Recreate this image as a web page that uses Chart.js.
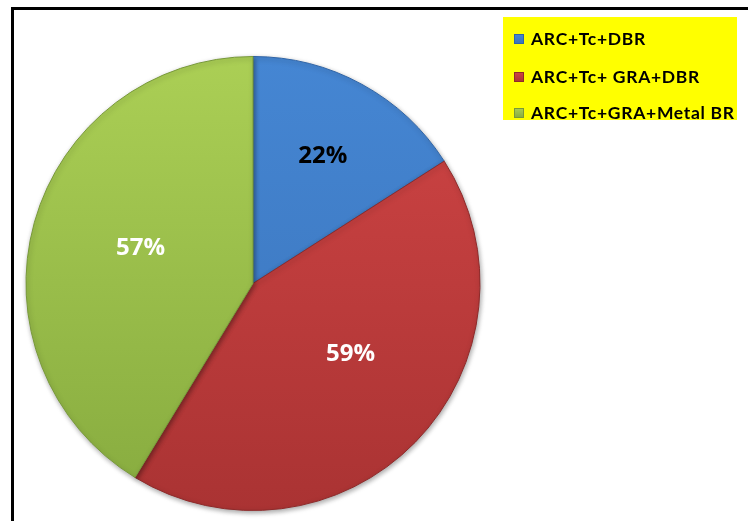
<!DOCTYPE html>
<html>
<head>
<meta charset="utf-8">
<script src="https://cdn.jsdelivr.net/npm/chart.js@4/dist/chart.umd.min.js"></script>
<style>
  html, body { margin: 0; padding: 0; background: #fff; }
  #wrap { position: relative; width: 748px; height: 521px; overflow: hidden; }
  #frame { position: absolute; left: 11px; top: 7px; width: 800px; height: 600px;
           border-left: 3px solid #000; border-top: 3px solid #000; }
  #chartBox { position: absolute; left: 0; top: 0; width: 748px; height: 521px; }
  #legend { position: absolute; left: 503px; top: 17px; width: 234px; height: 103px;
            background: #ffff00; font-family: Lato, "Liberation Sans", sans-serif;
            font-weight: bold; font-size: 17.5px; letter-spacing: 0.7px; color: #000; line-height: 21px; }
  .item { position: absolute; left: 11px; white-space: nowrap; }
  .sw { display: inline-block; width: 10px; height: 10px; margin-right: 7px; vertical-align: 1px; }
</style>
</head>
<body>
<div id="wrap">
  <div id="frame"></div>
  <div id="chartBox"><canvas id="c"></canvas></div>
  <div id="legend"></div>
</div>
<script>
const categories = ["ARC+Tc+DBR", "ARC+Tc+ GRA+DBR", "ARC+Tc+GRA+Metal BR"];
const values = [22, 59, 57];
const valueLabels = ["22%", "59%", "57%"];
const topColors = ["#4586D3", "#D04545", "#ABCF55"];
const bottomColors = ["#3A73B9", "#AA3333", "#87AB3F"];
const edgeColors = ["#2F64A6", "#8E2A2A", "#78993A"];
const labelColors = ["#000000", "#ffffff", "#ffffff"];
const labelRadius = [0.64, 0.53, 0.52];
const labelAngleShiftDeg = [0, -8.5, 2];

// HTML legend built from categories
const legend = document.getElementById('legend');
const rowTops = [11, 49, 85];
categories.forEach((name, i) => {
  const d = document.createElement('div');
  d.className = 'item';
  d.style.top = rowTops[i] + 'px';
  const s = document.createElement('span');
  s.className = 'sw';
  s.style.background = 'linear-gradient(' + topColors[i] + ',' + bottomColors[i] + ')';
  s.style.boxShadow = 'inset 0 0 0 1px ' + edgeColors[i];
  d.appendChild(s);
  d.appendChild(document.createTextNode(name));
  legend.appendChild(d);
});

function sliceFill(context) {
  const i = context.dataIndex;
  const chart = context.chart;
  const area = chart.chartArea;
  if (!area || i === undefined) return topColors[i || 0];
  const g = chart.ctx.createLinearGradient(0, area.top, 0, area.bottom);
  g.addColorStop(0, topColors[i]);
  g.addColorStop(1, bottomColors[i]);
  return g;
}

const shadowPlugin = {
  id: 'shadow',
  beforeDatasetsDraw(chart) {
    const ctx = chart.ctx;
    ctx.save();
    ctx.shadowColor = 'rgba(0,0,0,0.35)';
    ctx.shadowBlur = 5;
    ctx.shadowOffsetX = 1;
    ctx.shadowOffsetY = 2;
  },
  afterDatasetsDraw(chart) {
    chart.ctx.restore();
  }
};

const labelPlugin = {
  id: 'sliceLabels',
  afterDatasetsDraw(chart) {
    const ctx = chart.ctx;
    const meta = chart.getDatasetMeta(0);
    ctx.save();
    ctx.font = 'bold 24px "Open Sans", "Liberation Sans", sans-serif';
    ctx.textAlign = 'center';
    ctx.textBaseline = 'middle';
    meta.data.forEach((arc, i) => {
      const mid = (arc.startAngle + arc.endAngle) / 2 + labelAngleShiftDeg[i] * Math.PI / 180;
      const r = arc.outerRadius * labelRadius[i];
      const x = arc.x + Math.cos(mid) * r;
      const y = arc.y + Math.sin(mid) * r;
      ctx.fillStyle = labelColors[i];
      ctx.fillText(valueLabels[i], x, y);
    });
    ctx.restore();
  }
};

new Chart(document.getElementById('c'), {
  type: 'pie',
  data: {
    labels: categories,
    datasets: [{
      data: values,
      backgroundColor: sliceFill,
      borderColor: edgeColors,
      borderWidth: 1
    }]
  },
  options: {
    responsive: true,
    maintainAspectRatio: false,
    animation: false,
    layout: { padding: { left: 25, top: 56, right: 267, bottom: 10 } },
    plugins: {
      legend: { display: false },
      tooltip: { enabled: false }
    }
  },
  plugins: [shadowPlugin, labelPlugin]
});
</script>
</body>
</html>
